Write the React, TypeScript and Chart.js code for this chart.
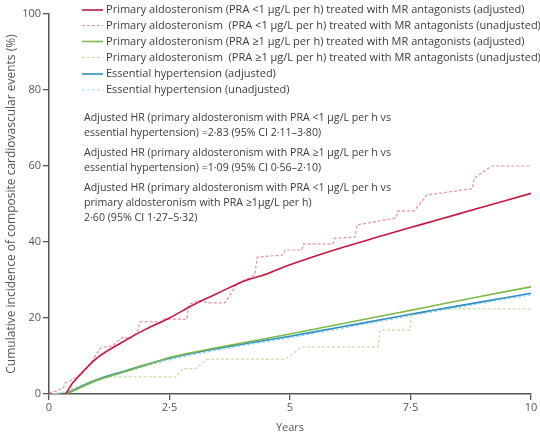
import React, { useEffect, useRef } from "react";
import { Chart, registerables } from "chart.js";

Chart.register(...registerables);

// ---- data ----
const redAdjX = [0.35, 0.5, 1, 1.5, 2, 2.5, 3, 3.5, 4, 4.5, 5, 6, 7, 7.5, 8, 9, 10];
const redAdjY = [0, 3, 9.5, 13.5, 17, 20, 23.5, 26.5, 29.5, 31.5, 34, 38.2, 42, 43.8, 45.6, 49.2, 52.8];

const redUnX = [0, 0.15, 0.3, 0.33, 0.44, 0.6, 0.7, 0.79, 0.91, 1.06, 1.16, 1.31, 1.41, 1.54, 1.68, 1.83, 1.89, 2.34, 2.36, 2.86, 2.9, 3.1, 3.3, 3.65, 3.9, 4.27, 4.32, 4.85, 4.9, 5.25, 5.28, 5.89, 5.93, 6.35, 6.39, 7.2, 7.24, 7.58, 7.84, 8.78, 8.82, 9.15, 9.2, 10];
const redUnY = [0.3, 0.8, 1.6, 2.9, 3.5, 4.6, 5.5, 6.8, 9, 12, 12.4, 12.6, 13.7, 15, 14.5, 16.3, 19, 19, 19.7, 19.7, 23.5, 24.7, 24, 24, 29, 31.3, 36, 36.6, 37.9, 37.9, 39.5, 39.5, 41, 41.3, 44.5, 46.3, 48.2, 48.2, 52.4, 54, 56.8, 59.7, 60, 60];

const greenAdjX = [0.35, 0.5, 1, 1.5, 2, 2.5, 3, 4, 5, 6, 7, 7.5, 8, 9, 10];
const greenAdjY = [0, 0.8, 3.6, 5.6, 7.6, 9.6, 11, 13.4, 15.8, 18.3, 20.8, 22, 23.3, 25.8, 28.2];

const greenUnX = [0.05, 0.3, 0.6, 0.9, 1.2, 2.65, 2.78, 3.05, 3.28, 4.9, 5.25, 6.83, 6.87, 7.49, 7.52, 8.2, 10];
const greenUnY = [0, 0.5, 2, 3.5, 4.5, 4.5, 6.7, 6.7, 9.2, 9.2, 12.4, 12.4, 16.8, 16.8, 20.8, 22.4, 22.4];

const blueAdjX = [0.35, 0.5, 1, 1.5, 2, 2.5, 3, 4, 5, 6, 7, 7.5, 8, 9, 10];
const blueAdjY = [0, 1.0, 3.8, 5.8, 7.7, 9.4, 10.8, 13.1, 15.2, 17.5, 19.8, 21, 22.1, 24.3, 26.5];

const blueUnX = [0.1, 0.35, 0.5, 1, 1.5, 2, 2.5, 3, 4, 5, 6, 7, 7.5, 8, 9, 10];
const blueUnY = [0, 0.5, 1.0, 3.5, 5.5, 7.3, 9.0, 10.4, 12.7, 14.8, 17.1, 19.4, 20.6, 21.7, 23.9, 26.1];

const xTickValues = [0, 2.5, 5, 7.5, 10];
const xTickLabels = ["0", "2·5", "5", "7·5", "10"];
const yTickValues = [0, 20, 40, 60, 80, 100];

const seriesLabels = [
  "Primary aldosteronism (PRA <1 µg/L per h) treated with MR antagonists (adjusted)",
  "Primary aldosteronism  (PRA <1 µg/L per h) treated with MR antagonists (unadjusted)",
  "Primary aldosteronism (PRA ≥1 µg/L per h) treated with MR antagonists (adjusted)",
  "Primary aldosteronism  (PRA ≥1 µg/L per h) treated with MR antagonists (unadjusted)",
  "Essential hypertension (adjusted)",
  "Essential hypertension (unadjusted)",
];

const hrNotes = [
  ["Adjusted HR (primary aldosteronism with PRA <1 µg/L per h vs", "essential hypertension) =2·83 (95% CI 2·11–3·80)"],
  ["Adjusted HR (primary aldosteronism with PRA ≥1 µg/L per h vs", "essential hypertension) =1·09 (95% CI 0·56–2·10)"],
  ["Adjusted HR (primary aldosteronism with PRA <1 µg/L per h vs", "primary aldosteronism with PRA ≥1µg/L per h)", "2·60 (95% CI 1·27–5·32)"],
];

const xTitle = "Years";
const yTitle = "Cumulative incidence of composite cardiovascular events (%)";

// ---- styles ----
const colors = ["#c4163f", "#e58f9c", "#7dba44", "#c4dfa8", "#2a8fc2", "#9fd0ea"];
const dashes: number[][] = [[], [3, 2], [], [3, 2], [], [3, 2]];
const widths = [1.6, 1.2, 1.6, 1.2, 1.6, 1.2];
const FONT = "'Open Sans', Lato, sans-serif";

function pts(xs: number[], ys: number[]) {
  return xs.map((x, i) => ({ x, y: ys[i] }));
}

function fitSize(ctx: any, text: string, target: number) {
  ctx.font = `11px ${FONT}`;
  const w = ctx.measureText(text).width;
  return (11 * target) / w;
}

const overlayPlugin = {
  id: "overlayText",
  afterDraw(chart: any) {
    const ctx = chart.ctx;
    ctx.save();
    ctx.textBaseline = "middle";
    ctx.textAlign = "left";
    // legend
    const legendSize = fitSize(ctx, seriesLabels[0], 419);
    ctx.font = `${legendSize}px ${FONT}`;
    const lx0 = 82, lx1 = 103, tx = 106;
    const rows = [10, 25.5, 41.5, 57.5, 74, 90];
    seriesLabels.forEach((lab, i) => {
      const y = rows[i];
      ctx.strokeStyle = colors[i];
      ctx.lineWidth = widths[i];
      ctx.setLineDash(dashes[i]);
      ctx.beginPath();
      ctx.moveTo(lx0, y);
      ctx.lineTo(lx1, y);
      ctx.stroke();
      ctx.setLineDash([]);
      ctx.fillStyle = "#3b3b3b";
      ctx.fillText(lab, tx, y);
    });
    // HR notes
    const noteSize = fitSize(ctx, hrNotes[0][0], 307);
    ctx.font = `${noteSize}px ${FONT}`;
    let y = 118;
    hrNotes.forEach((block) => {
      block.forEach((line) => {
        ctx.fillText(line, 84, y);
        y += 15;
      });
      y += 5;
    });
    ctx.restore();
  },
};

export default function App() {
  const ref = useRef<HTMLCanvasElement | null>(null);
  useEffect(() => {
    document.body.style.margin = "0";
    const xsList = [redAdjX, redUnX, greenAdjX, greenUnX, blueAdjX, blueUnX];
    const ysList = [redAdjY, redUnY, greenAdjY, greenUnY, blueAdjY, blueUnY];
    const drawOrder = [0, 2, 1, 4, 3, 5];
    const datasets = xsList.map((xs, i) => ({
      label: seriesLabels[i],
      data: pts(xs, ysList[i]),
      borderColor: colors[i],
      backgroundColor: colors[i],
      borderWidth: widths[i],
      borderDash: dashes[i],
      pointRadius: 0,
      tension: i % 2 === 0 ? 0.3 : 0,
      fill: false,
      order: drawOrder[i],
    }));
    const chart = new Chart(ref.current as HTMLCanvasElement, {
      type: "line",
      data: { datasets },
      plugins: [overlayPlugin],
      options: {
        animation: false,
        responsive: false,
        maintainAspectRatio: false,
        layout: { autoPadding: false, padding: { top: 14, right: 9, left: 0, bottom: 0 } },
        plugins: { legend: { display: false }, tooltip: { enabled: false } },
        scales: {
          x: {
            type: "linear",
            min: 0,
            max: 10,
            afterBuildTicks: (s: any) => {
              s.ticks = xTickValues.map((v) => ({ value: v }));
            },
            afterFit: (s: any) => {
              s.height = 41;
            },
            ticks: {
              callback: (v: any) => {
                const i = xTickValues.indexOf(Number(v));
                return i >= 0 ? xTickLabels[i] : "";
              },
              font: { family: FONT, size: 11 },
              color: "#555",
              padding: 1,
              maxRotation: 0,
            },
            grid: { drawOnChartArea: false, drawTicks: true, tickLength: 6, color: "#555", lineWidth: 1.3 },
            border: { display: true, color: "#555", width: 1.5 },
            title: {
              display: true,
              text: xTitle,
              font: { family: FONT, size: 11 },
              color: "#555",
              padding: { top: 0, bottom: 1 },
            },
          },
          y: {
            type: "linear",
            min: 0,
            max: 100,
            afterBuildTicks: (s: any) => {
              s.ticks = yTickValues.map((v) => ({ value: v }));
            },
            afterFit: (s: any) => {
              s.width = 49;
            },
            ticks: {
              font: { family: FONT, size: 11 },
              color: "#555",
              padding: 2,
            },
            grid: { drawOnChartArea: false, drawTicks: true, tickLength: 6, color: "#555", lineWidth: 1.3 },
            border: { display: true, color: "#555", width: 1.5 },
            title: {
              display: true,
              text: yTitle,
              font: { family: FONT, size: 12 },
              color: "#555",
              padding: { top: 4, bottom: 0 },
            },
          },
        },
      },
    } as any);
    return () => chart.destroy();
  }, []);
  return <canvas ref={ref} width={540} height={435} style={{ display: "block" }} />;
}
